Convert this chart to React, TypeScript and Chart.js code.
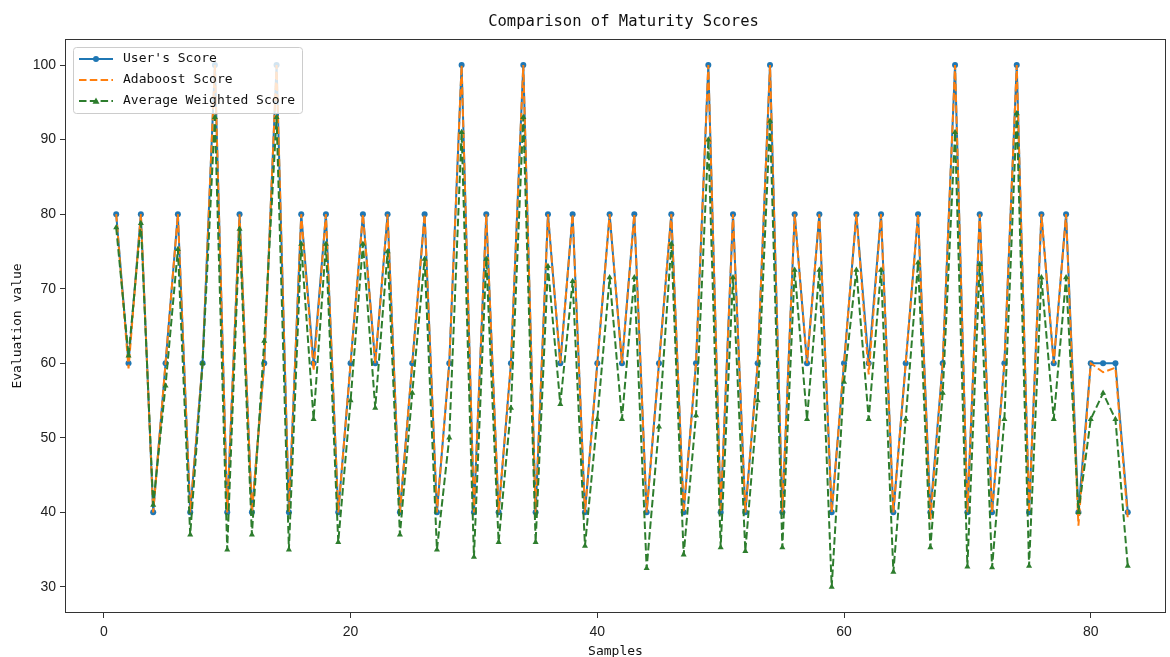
import React, { useEffect, useRef } from 'react';
import { Chart, registerables } from 'chart.js';

Chart.register(...registerables);

const samples = [
  1, 2, 3, 4, 5, 6, 7, 8, 9, 10, 11, 12, 13, 14, 15, 16, 17, 18, 19, 20,
  21, 22, 23, 24, 25, 26, 27, 28, 29, 30, 31, 32, 33, 34, 35, 36, 37, 38, 39, 40,
  41, 42, 43, 44, 45, 46, 47, 48, 49, 50, 51, 52, 53, 54, 55, 56, 57, 58, 59, 60,
  61, 62, 63, 64, 65, 66, 67, 68, 69, 70, 71, 72, 73, 74, 75, 76, 77, 78, 79, 80,
  81, 82, 83,
];

const userScores = [
  80, 60, 80, 40, 60, 80, 40, 60, 100, 40, 80, 40, 60, 100, 40, 80, 60, 80, 40, 60,
  80, 60, 80, 40, 60, 80, 40, 60, 100, 40, 80, 40, 60, 100, 40, 80, 60, 80, 40, 60,
  80, 60, 80, 40, 60, 80, 40, 60, 100, 40, 80, 40, 60, 100, 40, 80, 60, 80, 40, 60,
  80, 60, 80, 40, 60, 80, 40, 60, 100, 40, 80, 40, 60, 100, 40, 80, 60, 80, 40, 60,
  60, 60, 40,
];

const adaboostScores = [
  80, 59.3, 80, 40, 60, 80, 40, 60, 100, 40, 80, 40, 60, 100, 40, 80, 59, 80, 40, 60,
  80, 60, 80, 40, 60, 80, 40, 60, 100, 40, 80, 40, 60, 100, 40, 80, 60, 80, 40, 60,
  80, 60, 80, 40, 60, 80, 40, 60, 100, 40, 80, 40, 60, 100, 40, 80, 60, 80, 40, 60,
  80, 58.5, 80, 40, 60, 80, 39, 60, 100, 40, 80, 40, 60, 100, 40, 80, 60, 80, 38.2, 60,
  58.8, 59.4, 39.2,
];

const weightedScores = [
  78.2, 61, 78.8, 41, 57, 75.3, 37, 60, 93, 35, 78, 37, 63, 93, 35, 76, 52.5, 76, 36, 55,
  76, 54, 75, 37, 56, 74, 35, 50, 91, 34, 74, 36, 54, 93, 36, 73, 54.5, 71, 35.5, 52.5,
  71.5, 52.5, 71.5, 32.5, 51.5, 76, 34.3, 53, 90, 35.3, 71.5, 34.8, 55, 92.5, 35.3, 72.5, 52.5, 72.5, 30, 57.5,
  72.5, 52.5, 72.5, 32, 52.5, 73.5, 35.3, 56, 91, 32.7, 73.3, 32.6, 52.5, 93.5, 32.8, 71.5, 52.5, 71.5, 40, 52.5,
  56, 52.5, 32.8,
];

const xTickValues = [0, 20, 40, 60, 80];
const yTickValues = [30, 40, 50, 60, 70, 80, 90, 100];

const chartTitle = 'Comparison of Maturity Scores';
const xAxisTitle = 'Samples';
const yAxisTitle = 'Evaluation value';
const seriesNames = ["User's Score", 'Adaboost Score', 'Average Weighted Score'];

const BLUE = '#1f77b4';
const ORANGE = '#ff7f0e';
const GREEN = '#2d7d2d';
const MONO = '"DejaVu Sans Mono", "Liberation Mono", monospace';
const TICKFONT = '"Liberation Sans Narrow", "Liberation Sans", sans-serif';

const framePlugin = {
  id: 'frameBox',
  afterDatasetsDraw(chart: any) {
    const { ctx, chartArea: a } = chart;
    ctx.save();
    ctx.strokeStyle = '#333333';
    ctx.lineWidth = 1;
    ctx.setLineDash([]);
    ctx.strokeRect(
      Math.round(a.left) + 0.5,
      Math.round(a.top) + 0.5,
      Math.round(a.right - a.left) - 1,
      Math.round(a.bottom - a.top) - 1,
    );
    ctx.restore();
  },
};

const titlePlugin = {
  id: 'topTitle',
  afterDraw(chart: any) {
    const { ctx, chartArea: a } = chart;
    ctx.save();
    ctx.font = `15.5px ${MONO}`;
    ctx.fillStyle = '#111111';
    ctx.textAlign = 'center';
    ctx.textBaseline = 'middle';
    ctx.fillText(chartTitle, (a.left + a.right) / 2 + 8, a.top - 17);
    ctx.restore();
  },
};

const legendPlugin = {
  id: 'innerLegend',
  afterDraw(chart: any) {
    const { ctx, chartArea: a } = chart;
    const x0 = Math.round(a.left) + 8;
    const y0 = Math.round(a.top) + 8;
    const w = 229;
    const h = 66;
    ctx.save();
    ctx.fillStyle = 'rgba(255,255,255,0.8)';
    ctx.strokeStyle = '#cccccc';
    ctx.lineWidth = 1;
    ctx.beginPath();
    if ((ctx as any).roundRect) {
      (ctx as any).roundRect(x0 + 0.5, y0 + 0.5, w, h, 3);
    } else {
      ctx.rect(x0 + 0.5, y0 + 0.5, w, h);
    }
    ctx.fill();
    ctx.stroke();

    chart.data.datasets.forEach((ds: any, i: number) => {
      const y = y0 + 12 + i * 21;
      const hx0 = x0 + 6;
      const hx1 = x0 + 40;
      ctx.strokeStyle = ds.borderColor;
      ctx.lineWidth = 2;
      ctx.setLineDash(ds.borderDash || []);
      ctx.beginPath();
      ctx.moveTo(hx0, y);
      ctx.lineTo(hx1, y);
      ctx.stroke();
      ctx.setLineDash([]);
      const mx = (hx0 + hx1) / 2;
      ctx.fillStyle = ds.borderColor;
      if (ds.pointStyle === 'circle' && ds.pointRadius > 0) {
        ctx.beginPath();
        ctx.arc(mx, y, ds.pointRadius, 0, Math.PI * 2);
        ctx.fill();
      } else if (ds.pointStyle === 'triangle' && ds.pointRadius > 0) {
        const r = ds.pointRadius;
        ctx.beginPath();
        ctx.moveTo(mx, y - r);
        ctx.lineTo(mx + r, y + r * 0.8);
        ctx.lineTo(mx - r, y + r * 0.8);
        ctx.closePath();
        ctx.fill();
      }
      ctx.fillStyle = '#111111';
      ctx.font = `13px ${MONO}`;
      ctx.textAlign = 'left';
      ctx.textBaseline = 'middle';
      ctx.fillText(seriesNames[i], x0 + 50, y);
    });
    ctx.restore();
  },
};

export default function App() {
  const canvasRef = useRef<HTMLCanvasElement | null>(null);

  useEffect(() => {
    document.body.style.margin = '0';
    const canvas = canvasRef.current;
    if (!canvas) return;

    const toPoints = (vals: number[]) => samples.map((s, i) => ({ x: s, y: vals[i] }));

    const chart = new Chart(canvas, {
      type: 'line',
      data: {
        datasets: [
          {
            label: seriesNames[0],
            data: toPoints(userScores),
            borderColor: BLUE,
            backgroundColor: BLUE,
            borderWidth: 2,
            pointStyle: 'circle',
            pointRadius: 3,
            pointBorderWidth: 0,
            pointBackgroundColor: BLUE,
            tension: 0,
            order: 2,
          },
          {
            label: seriesNames[1],
            data: toPoints(adaboostScores),
            borderColor: ORANGE,
            backgroundColor: ORANGE,
            borderWidth: 2,
            borderDash: [7.5, 3.3],
            pointStyle: 'circle',
            pointRadius: 0,
            tension: 0,
            order: 1,
          },
          {
            label: seriesNames[2],
            data: toPoints(weightedScores),
            borderColor: GREEN,
            backgroundColor: GREEN,
            borderWidth: 2,
            borderDash: [7.5, 3.3],
            pointStyle: 'triangle',
            pointRadius: 3.5,
            pointBorderWidth: 0,
            pointBackgroundColor: GREEN,
            tension: 0,
            order: 0,
          },
        ] as any,
      },
      options: {
        responsive: false,
        animation: false,
        devicePixelRatio: 1,
        layout: { padding: { top: 39, right: 3, left: 0, bottom: 0 } },
        plugins: {
          legend: { display: false },
          tooltip: { enabled: false },
          title: { display: false },
        },
        scales: {
          x: {
            type: 'linear',
            min: -3.15,
            max: 86.1,
            afterBuildTicks: (s: any) => {
              s.ticks = xTickValues.map((v) => ({ value: v }));
            },
            afterFit: (s: any) => {
              s.height = 44;
            },
            ticks: {
              autoSkip: false,
              maxRotation: 0,
              padding: 6,
              color: '#222222',
              font: { family: TICKFONT, size: 14 },
            },
            grid: {
              display: true,
              drawOnChartArea: false,
              drawTicks: true,
              tickLength: 5,
              color: '#333333',
            },
            border: { display: false },
            title: {
              display: true,
              text: xAxisTitle,
              color: '#111111',
              font: { family: MONO, size: 13 },
              padding: { top: 0, bottom: -2 },
            },
          },
          y: {
            type: 'linear',
            min: 26.5,
            max: 103.5,
            afterBuildTicks: (s: any) => {
              s.ticks = yTickValues.map((v) => ({ value: v }));
            },
            afterFit: (s: any) => {
              s.width = 65;
            },
            ticks: {
              autoSkip: false,
              padding: 4,
              color: '#222222',
              font: { family: TICKFONT, size: 14 },
            },
            grid: {
              display: true,
              drawOnChartArea: false,
              drawTicks: true,
              tickLength: 5,
              color: '#333333',
            },
            border: { display: false },
            title: {
              display: true,
              text: yAxisTitle,
              color: '#111111',
              font: { family: MONO, size: 13 },
              padding: { top: 10, bottom: 0 },
            },
          },
        },
      } as any,
      plugins: [framePlugin, titlePlugin, legendPlugin],
    });

    return () => {
      chart.destroy();
    };
  }, []);

  return (
    <div style={{ position: 'absolute', left: 0, top: 0, width: 1170, height: 657 }}>
      <canvas ref={canvasRef} width={1170} height={657} style={{ display: 'block' }} />
    </div>
  );
}
